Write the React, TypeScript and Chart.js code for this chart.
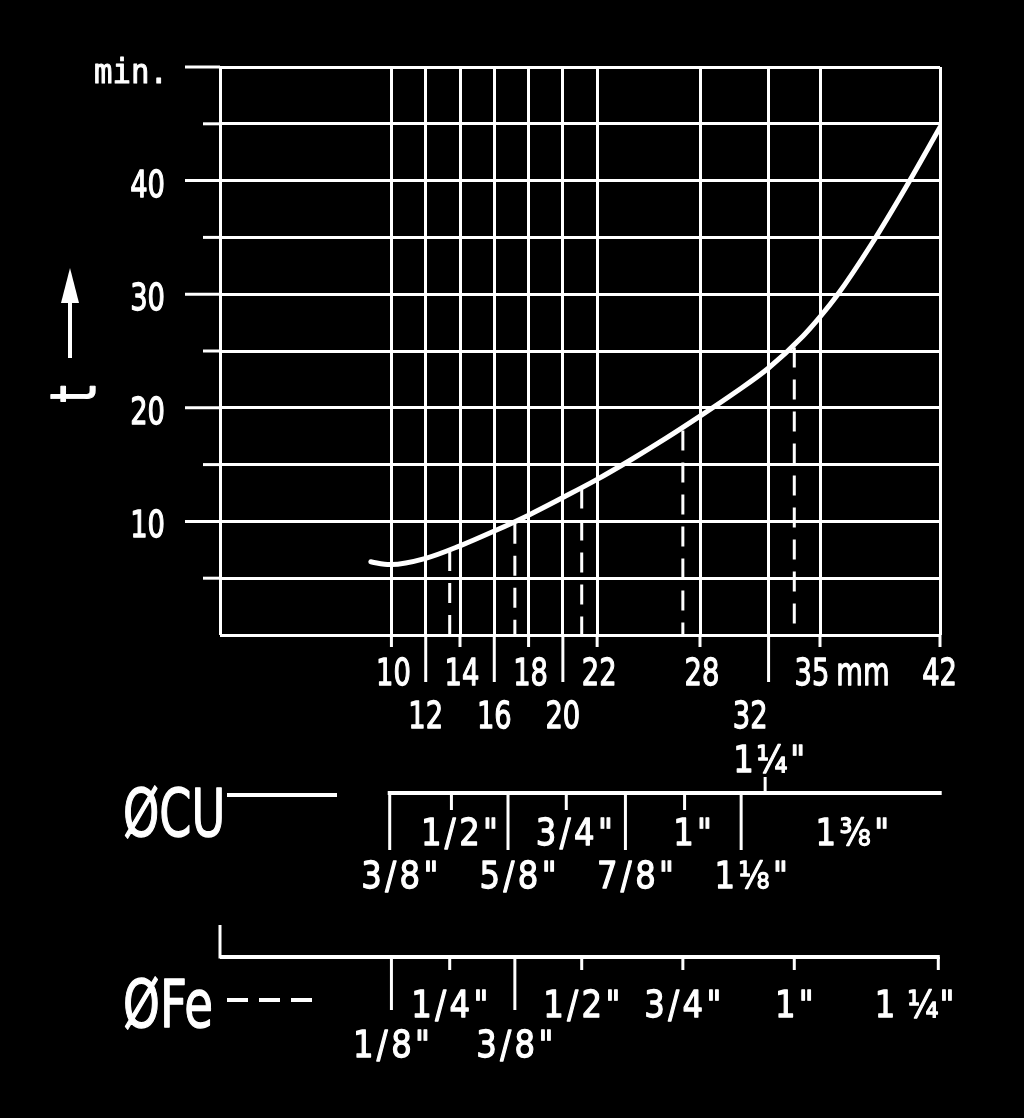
import React, { useEffect, useRef } from "react";
import { Chart, registerables } from "chart.js";

Chart.register(...registerables);

// ---- data ----
const curveMm = [8.8, 9.6, 10, 12, 14, 16, 18, 20, 22, 24, 26, 28, 30, 32, 34, 35, 36, 38, 40, 42];
const curveMin = [6.45, 6.22, 6.2, 6.75, 7.85, 9.15, 10.55, 12.1, 13.7, 15.45, 17.3, 19.26, 21.3, 23.5, 26.3, 28.0, 29.9, 34.4, 39.4, 44.7];

const mmGridTicks = [0, 10, 12, 14, 16, 18, 20, 22, 28, 32, 35, 42];
const mmLabelsRow1 = [10, 14, 18, 22, 28, 35, 42];
const mmLabelsRow2 = [12, 16, 20, 32];
const mmUnit = "mm";

const minTicks = [0, 5, 10, 15, 20, 25, 30, 35, 40, 45, 50];
const minLabels = [10, 20, 30, 40];
const minUnit = "min.";
const axisSymbol = "t";

// Fe (steel pipe) sizes on the mm axis
const feMm = [10.0, 13.4, 17.2, 21.1, 27.0, 33.5, 41.9];
const feLabels = ['1/8"', '1/4"', '3/8"', '1/2"', '3/4"', '1"', '1 \u00BC"'];
const feRow = [2, 1, 2, 1, 1, 1, 1];
// dashed guide lines: Fe sizes up to where they meet the curve
const feDashMm = [13.4, 17.2, 21.1, 27.0, 33.5];
const feDashTop = [7.4, 9.8, 12.9, 18.0, 25.3];

// Cu (copper tube) sizes on the mm axis
const cuMm = [9.9, 13.5, 16.8, 20.2, 23.65, 27.1, 30.4, 31.8];
const cuLabels = ['3/8"', '1/2"', '5/8"', '3/4"', '7/8"', '1"', '1\u215B"', '1\u00BC"'];
const cuRow = [2, 1, 2, 1, 2, 1, 2, 0];
const cuEndMm = 42.1;
const cuEndLabel = '1\u215C"';
const cuEndLabelMm = 36.3;

const cuTitle = "\u00D8CU";
const feTitle = "\u00D8Fe";

const FONT = '"DejaVu Sans", "Liberation Sans", sans-serif';
const MONO = '"DejaVu Sans Mono", "Liberation Mono", monospace';

function txt(
  ctx: CanvasRenderingContext2D,
  s: string,
  x: number,
  y: number,
  size: number,
  align: "left" | "center" | "right",
  sx = 0.72,
  ls = 0,
  family = FONT,
  stroke = 1.3
) {
  ctx.save();
  ctx.font = `${size}px ${family}`;
  (ctx as any).letterSpacing = ls + "px";
  ctx.textBaseline = "alphabetic";
  ctx.textAlign = "left";
  const w = (ctx.measureText(s).width - ls) * sx;
  const x0 = align === "center" ? x - w / 2 : align === "right" ? x - w : x;
  ctx.translate(x0, y);
  ctx.scale(sx, 1);
  ctx.fillStyle = "#fff";
  ctx.strokeStyle = "#fff";
  ctx.lineJoin = "round";
  ctx.fillText(s, 0, 0);
  if (stroke > 0) {
    ctx.lineWidth = stroke;
    ctx.strokeText(s, 0, 0);
  }
  ctx.restore();
}

function line(ctx: CanvasRenderingContext2D, x1: number, y1: number, x2: number, y2: number, w = 3) {
  ctx.beginPath();
  ctx.lineWidth = w;
  ctx.moveTo(x1, y1);
  ctx.lineTo(x2, y2);
  ctx.stroke();
}

const decorPlugin = {
  id: "decor",
  afterDraw(chart: any) {
    const ctx: CanvasRenderingContext2D = chart.ctx;
    const xs = chart.scales.x;
    const ys = chart.scales.y;
    const { left, bottom } = chart.chartArea;
    const px = (v: number) => xs.getPixelForValue(v);
    const py = (v: number) => ys.getPixelForValue(v);
    ctx.save();
    ctx.strokeStyle = "#fff";
    ctx.fillStyle = "#fff";
    ctx.lineCap = "butt";

    // y tick extensions
    minTicks.forEach((v) => {
      if (v === 0) return;
      const len = v % 10 === 0 ? 35 : 17;
      line(ctx, left - len, py(v), left, py(v), 3);
    });
    // x tick extensions
    mmLabelsRow1.forEach((v) => line(ctx, px(v), bottom, px(v), bottom + 12, 3));
    mmLabelsRow2.forEach((v) => line(ctx, px(v), bottom, px(v), bottom + 47, 3));

    // y labels
    minLabels.forEach((v) => txt(ctx, String(v), 165, py(v) + 16, 38, "right"));
    txt(ctx, minUnit, 168, py(50) + 16, 33, "right", 0.93, 0, MONO, 1);

    // x labels row 1
    mmLabelsRow1.forEach((v, i) => {
      const last = i === mmLabelsRow1.length - 1;
      if (last) {
        txt(ctx, String(v), px(v) + 17, bottom + 50, 38, "right");
      } else if (v === 35) {
        txt(ctx, String(v), px(v) - 8, bottom + 50, 38, "center");
        txt(ctx, mmUnit, (px(v) + px(mmLabelsRow1[i + 1])) / 2 - 17, bottom + 50, 38, "center", 0.72);
      } else {
        txt(ctx, String(v), px(v) + 2, bottom + 50, 38, "center");
      }
    });
    // x labels row 2
    mmLabelsRow2.forEach((v, i) => {
      const last = i === mmLabelsRow2.length - 1;
      if (last) txt(ctx, String(v), px(v) - 1, bottom + 93, 38, "right");
      else txt(ctx, String(v), px(v), bottom + 93, 38, "center");
    });

    // t axis arrow and symbol
    line(ctx, 70, 300, 70, 358, 4);
    ctx.beginPath();
    ctx.moveTo(70, 268);
    ctx.lineTo(61, 303);
    ctx.lineTo(79, 303);
    ctx.closePath();
    ctx.fill();
    ctx.save();
    ctx.translate(95, 394);
    ctx.rotate(-Math.PI / 2);
    txt(ctx, axisSymbol, 0, 0, 62, "center", 0.72);
    ctx.restore();

    // ---- Cu scale ----
    const cuY = 793;
    txt(ctx, cuTitle, 123, 836, 66, "left", 0.7);
    line(ctx, 227, 795, 337, 795, 4);
    line(ctx, px(cuMm[0]) - 2, cuY, px(cuEndMm), cuY, 4);
    cuMm.forEach((v, i) => {
      const r = cuRow[i];
      const x = px(v);
      if (r === 2) {
        line(ctx, x, cuY, x, 850, 3);
        txt(ctx, cuLabels[i], x + 10, 888, 38, "center", 0.85, 4);
      } else if (r === 1) {
        line(ctx, x, cuY, x, 810, 3);
        txt(ctx, cuLabels[i], x + 8, 845, 38, "center", 0.85, 4);
      } else {
        line(ctx, x, cuY, x, 777, 3);
        txt(ctx, cuLabels[i], x + 4, 772, 38, "center", 0.85, 3);
      }
    });
    txt(ctx, cuEndLabel, px(cuEndLabelMm) + 10, 845, 38, "center", 0.85, 4);

    // ---- Fe scale ----
    const feY = 957;
    txt(ctx, feTitle, 123, 1027, 66, "left", 0.71);
    ctx.save();
    ctx.setLineDash([21, 11]);
    line(ctx, 227, 1000, 318, 1000, 4);
    ctx.restore();
    line(ctx, px(0), 925, px(0), feY + 1.5, 3);
    line(ctx, px(0), feY, px(feMm[feMm.length - 1]) + 1.5, feY, 4);
    feMm.forEach((v, i) => {
      const x = px(v);
      const last = i === feMm.length - 1;
      if (feRow[i] === 2) {
        line(ctx, x, feY, x, 1010, 3);
        txt(ctx, feLabels[i], x, 1057, 38, "center", 0.85, 4);
      } else {
        line(ctx, x, feY, x, 970, 3);
        if (last) txt(ctx, feLabels[i], x + 16, 1017, 38, "right", 0.85, 1);
        else txt(ctx, feLabels[i], x, 1017, 38, "center", 0.85, 4);
      }
    });

    ctx.restore();
  },
};

export default function App() {
  const ref = useRef<HTMLCanvasElement | null>(null);

  useEffect(() => {
    const canvas = ref.current;
    if (!canvas) return;
    const datasets: any[] = [
      {
        data: curveMm.map((x, i) => ({ x, y: curveMin[i] })),
        borderColor: "#fff",
        borderWidth: 5,
        pointRadius: 0,
        cubicInterpolationMode: "monotone",
        borderCapStyle: "round",
        fill: false,
      },
      ...feDashMm.map((x, i) => ({
        data: [
          { x, y: feDashTop[i] },
          { x, y: 0 },
        ],
        borderColor: "#fff",
        borderWidth: 3,
        borderDash: [20, 12],
        pointRadius: 0,
        fill: false,
      })),
    ];

    const chart = new Chart(canvas, {
      type: "line",
      data: { datasets },
      options: {
        animation: false,
        responsive: false,
        maintainAspectRatio: false,
        events: [],
        layout: { padding: { top: 67, right: 84, left: 0, bottom: 0 } },
        plugins: { legend: { display: false }, tooltip: { enabled: false } },
        scales: {
          x: {
            type: "linear",
            min: 0,
            max: 42,
            afterBuildTicks: (s: any) => {
              s.ticks = mmGridTicks.map((v) => ({ value: v }));
            },
            afterFit: (s: any) => {
              s.height = 1118 - 635;
            },
            grid: { color: "#fff", lineWidth: 3, drawTicks: false },
            border: { display: false },
            ticks: { display: false },
          },
          y: {
            type: "linear",
            min: 0,
            max: 50,
            afterBuildTicks: (s: any) => {
              s.ticks = minTicks.map((v) => ({ value: v }));
            },
            afterFit: (s: any) => {
              s.width = 220;
            },
            grid: { color: "#fff", lineWidth: 3, drawTicks: false },
            border: { display: false },
            ticks: { display: false },
          },
        },
      } as any,
      plugins: [decorPlugin],
    });
    return () => chart.destroy();
  }, []);

  return (
    <div
      style={{
        position: "fixed",
        left: 0,
        top: 0,
        width: 1024,
        height: 1118,
        background: "#000",
        overflow: "hidden",
      }}
    >
      <canvas ref={ref} width={1024} height={1118} style={{ display: "block", width: 1024, height: 1118 }} />
    </div>
  );
}
